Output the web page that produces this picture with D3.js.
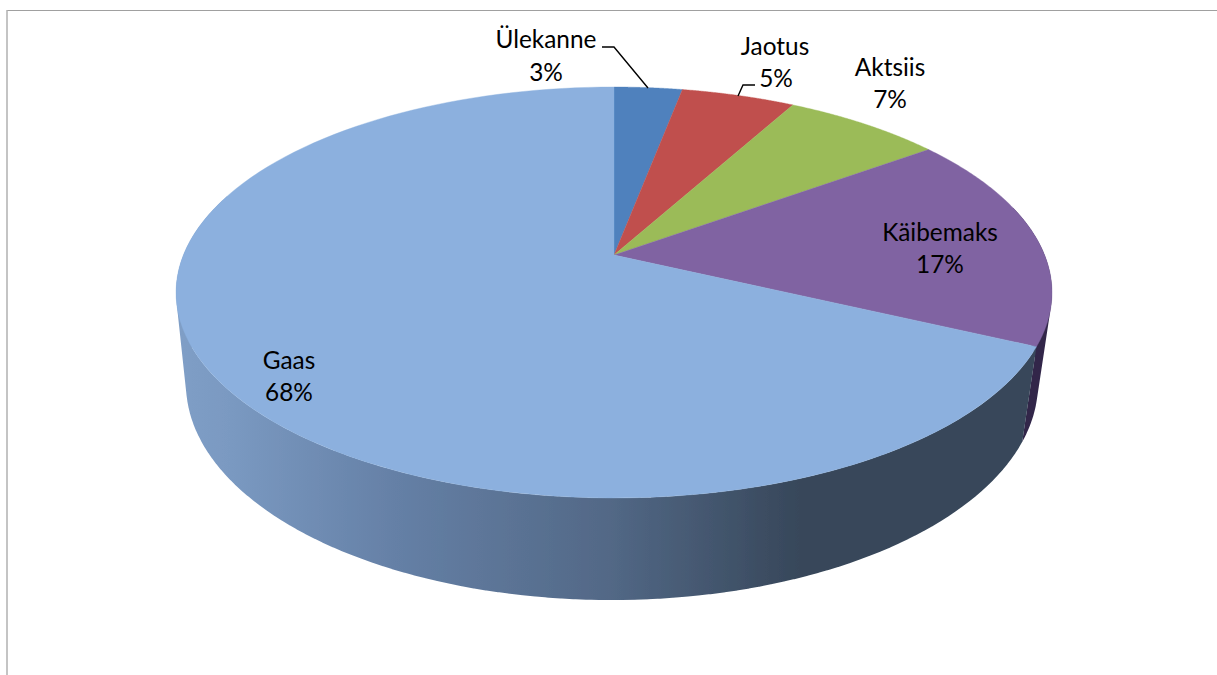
<!DOCTYPE html>
<html><head><meta charset="utf-8">
<script src="https://cdnjs.cloudflare.com/ajax/libs/d3/7.9.0/d3.min.js"></script>
<style>html,body{margin:0;background:#fff}svg{display:block}text{font-family:Lato,"Open Sans",sans-serif;font-size:24.4px;fill:#000}</style>
</head><body><svg id="c" width="1217" height="675"></svg>
<script>
const categories = ["Ülekanne","Jaotus","Aktsiis","Käibemaks","Gaas"];
const shares = [3,5,7,17,68];
const topColors = ["#4f81bd","#c0504d","#9bbb59","#8064a2","#8cb0de"];
const wallColors = ["#2b3f57","#5e2a28","#4d5f2c","#32274a","url(#wall)"];
const wallStops = [[0,"#7f9ec6"],[0.06,"#7a99c1"],[0.25,"#6580a6"],[0.5,"#526886"],[0.72,"#37475a"],[1,"#37475a"]];
const labelLines = [[ [546,48],[546,81] ],[ [775,55],[776,87] ],[ [890,76],[890,108] ],[ [940,241],[940,273] ],[ [289,369],[289,401] ]];
const leaders = [[[602,47],[614,47],[648,88]],[[755,85],[743,85],[738,96]]];

const svg = d3.select("#c");
const W = 1217, H = 675;

// perspective camera: u,v on the unit disc, h = 0 top face, 1 bottom face
const cam = {cx:614, k:430.6, a:152.1, b:255, c:-0.1825, d:0.0271, e:99.7, f:-2};
function project(theta, h){
  const u = Math.sin(theta), v = -Math.cos(theta);
  const w = 1 + cam.c*v + cam.d*h;
  return [cam.cx + (cam.k*u + cam.f*h)/w, (cam.a*v + cam.b + cam.e*h)/w];
}
const arcs = d3.pie().sort(null).value(d=>d)(shares);
const line = d3.line();
const sample = (a0,a1,h) => d3.range(0,121).map(i=>project(a0+(a1-a0)*i/120,h));

const defs = svg.append("defs");
const grad = defs.append("linearGradient").attr("id","wall").attr("gradientUnits","userSpaceOnUse")
  .attr("x1",180).attr("x2",1040).attr("y1",0).attr("y2",0);
wallStops.forEach(s=>grad.append("stop").attr("offset",s[0]).attr("stop-color",s[1]));
defs.append("filter").attr("id","soft").attr("x","-5%").attr("y","-5%").attr("width","110%").attr("height","110%")
  .attr("filterUnits","objectBoundingBox")
  .append("feGaussianBlur").attr("stdDeviation",0.45);

// frame
svg.append("line").attr("x1",7).attr("x2",W).attr("y1",10.5).attr("y2",10.5).attr("stroke","#a0a0a0").attr("stroke-width",1.2);
svg.append("line").attr("x1",7).attr("x2",7).attr("y1",10).attr("y2",H).attr("stroke","#b0b0b0").attr("stroke-width",1.5);

// side walls: only slices on the near side are visible
const visFrom = Math.PI*0.42, visTo = Math.PI*1.6;
const g = svg.append("g").attr("filter","url(#soft)");
arcs.forEach((s,i)=>{
  const a0 = Math.max(s.startAngle,visFrom), a1 = Math.min(s.endAngle,visTo);
  if(a1<=a0) return;
  const n = 120;
  const quads = d3.range(n).map(j=>{
    const t0=a0+(a1-a0)*j/n, t1=a0+(a1-a0)*(j+1.2)/n;
    const q=[project(t0,0),project(t1,0),project(t1,1),project(t0,1)];
    if(d3.polygonArea(q)<0) q.reverse();   // same winding, so overlapping quads never cancel out
    return line(q)+"Z";
  }).join("");
  g.append("path").attr("d",quads).attr("fill",wallColors[i]);
});
// top face
arcs.forEach((s,i)=>{
  const pts = [[cam.cx,cam.b],...sample(s.startAngle,s.endAngle,0)];
  g.append("path").attr("d",line(pts)+"Z").attr("fill",topColors[i]).attr("stroke",topColors[i]).attr("stroke-width",0.4);
});
// leaders
leaders.forEach(l=>svg.append("path").attr("d",line(l)).attr("fill","none").attr("stroke","#000").attr("stroke-width",1.4));
// labels
categories.forEach((c,i)=>{
  svg.append("text").attr("x",labelLines[i][0][0]).attr("y",labelLines[i][0][1]).attr("text-anchor","middle").text(c);
  svg.append("text").attr("x",labelLines[i][1][0]).attr("y",labelLines[i][1][1]).attr("text-anchor","middle").text(shares[i]+"%");
});
</script></body></html>
